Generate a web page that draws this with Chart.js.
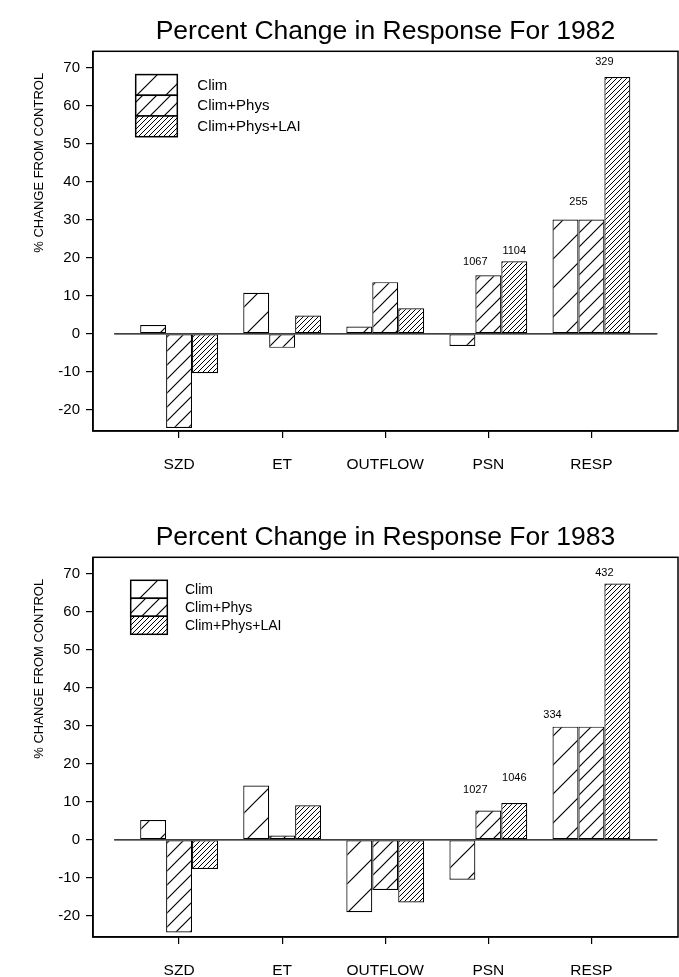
<!DOCTYPE html>
<html><head><meta charset="utf-8">
<script src="https://cdn.jsdelivr.net/npm/chart.js@4.4.1/dist/chart.umd.min.js"></script>
<style>
html,body{margin:0;padding:0;background:#fff;}
#wrap{position:relative;width:679px;height:977px;overflow:hidden;background:#fff;}
canvas{position:absolute;left:0;}
</style></head><body>
<div id="wrap">
<canvas id="c1" width="679" height="506" style="top:0px"></canvas>
<canvas id="c2" width="679" height="471" style="top:506px"></canvas>
</div>
<script>
// ---------- data ----------
const categories = ['SZD', 'ET', 'OUTFLOW', 'PSN', 'RESP'];
const seriesNames = ['Clim', 'Clim+Phys', 'Clim+Phys+LAI'];

const clim1982        = [2.3, 10.8, 1.9, -3.2, 30.1];
const climPhys1982    = [-24.8, -3.7, 13.6, 15.4, 30.1];
const climPhysLai1982 = [-10.4, 4.8, 6.7, 19.1, 67.6];

const clim1983        = [5.2, 14.3, -19.1, -10.5, 29.8];
const climPhys1983    = [-24.4, 1.1, -13.2, 7.7, 29.8];
const climPhysLai1983 = [-7.7, 9.1, -16.5, 9.7, 67.5];

const yTickValues = [-20, -10, 0, 10, 20, 30, 40, 50, 60, 70];

const valueLabels1982 = [
  {series: 1, cat: 3, text: '1067'},
  {series: 2, cat: 3, text: '1104'},
  {series: 1, cat: 4, text: '255'},
  {series: 2, cat: 4, text: '329'}
];
const valueLabels1983 = [
  {series: 1, cat: 3, text: '1027'},
  {series: 2, cat: 3, text: '1046'},
  {series: 0, cat: 4, text: '334'},
  {series: 2, cat: 4, text: '432'}
];

// ---------- styles ----------
const FONT = "'Liberation Sans', Arial, Helvetica, sans-serif";
Chart.defaults.font.family = FONT;
Chart.defaults.color = '#000';

function hatch(s, lw) {
  const c = document.createElement('canvas');
  c.width = s; c.height = s;
  const g = c.getContext('2d');
  g.fillStyle = '#fff'; g.fillRect(0, 0, s, s);
  g.strokeStyle = '#000'; g.lineWidth = lw;
  g.beginPath();
  g.moveTo(-1, s + 1); g.lineTo(s + 1, -1);
  g.moveTo(-2, 2); g.lineTo(2, -2);
  g.moveTo(s - 2, s + 2); g.lineTo(s + 2, s - 2);
  g.stroke();
  return g.createPattern(c, 'repeat');
}
const patterns = [hatch(29, 1.2), hatch(14, 1.2), hatch(5, 1.0)];

const labelOffsets1982 = [{dx: -0.5, dy: 13.6}, {dx: 0, dy: 10.3}, {dx: -0.5, dy: 17.6}, {dx: -0.5, dy: 15}];
const labelOffsets1983 = [{dx: -0.5, dy: 20.4}, {dx: 0, dy: 24.6}, {dx: -0.5, dy: 11.7}, {dx: -0.5, dy: 10.6}];

const legendStyle1982 = {ox: 42.7, oy: 23.3, bw: 41.6, bh: 20.7, gap: 20, size: 15};
const legendStyle1983 = {ox: 37.7, oy: 23, bw: 36.6, bh: 18, gap: 17.7, size: 14};

// ---------- plugins ----------
const framePlugin = {
  id: 'frame',
  beforeDatasetsDraw(chart) {
    const {ctx, chartArea: a} = chart;
    ctx.save();
    ctx.strokeStyle = '#000'; ctx.lineWidth = 1.5;
    ctx.strokeRect(a.left, a.top, a.right - a.left, a.bottom - a.top);
    ctx.restore();
  }
};

const baselinePlugin = {
  id: 'baseline',
  afterDatasetsDraw(chart, args, opts) {
    const {ctx, scales: {x, y}} = chart;
    const py = y.getPixelForValue(0);
    ctx.save();
    ctx.strokeStyle = '#000'; ctx.lineWidth = 1.3;
    ctx.beginPath();
    ctx.moveTo(x.getPixelForValue(opts.from), py);
    ctx.lineTo(x.getPixelForValue(opts.to), py);
    ctx.stroke();
    ctx.restore();
  }
};

const valueLabelPlugin = {
  id: 'valueLabels',
  afterDatasetsDraw(chart, args, opts) {
    const {ctx} = chart;
    ctx.save();
    ctx.fillStyle = '#000';
    ctx.font = opts.size + 'px ' + FONT;
    ctx.textAlign = 'center'; ctx.textBaseline = 'middle';
    opts.items.forEach((it, i) => {
      const el = chart.getDatasetMeta(it.series).data[it.cat];
      const off = opts.offsets[i];
      ctx.fillText(it.text, el.x + off.dx * el.width, el.y - off.dy);
    });
    ctx.restore();
  }
};

const hatchLegendPlugin = {
  id: 'hatchLegend',
  afterDraw(chart, args, o) {
    const {ctx, chartArea: a} = chart;
    const x0 = a.left + o.ox, y0 = a.top + o.oy;
    ctx.save();
    chart.data.datasets.forEach((ds, i) => {
      const y = y0 + i * o.bh;
      ctx.fillStyle = ds.backgroundColor;
      ctx.fillRect(x0, y, o.bw, o.bh);
      ctx.strokeStyle = '#000'; ctx.lineWidth = 1.5;
      ctx.strokeRect(x0, y, o.bw, o.bh);
      ctx.fillStyle = '#000';
      ctx.font = o.size + 'px ' + FONT;
      ctx.textAlign = 'left'; ctx.textBaseline = 'middle';
      ctx.fillText(ds.label, x0 + o.bw + o.gap, y + o.bh / 2 + 0.5);
    });
    ctx.restore();
  }
};

const yTitlePlugin = {
  id: 'yTitle',
  afterDraw(chart, args, o) {
    const {ctx, chartArea: a} = chart;
    ctx.save();
    ctx.translate(o.x, a.top + o.dy);
    ctx.rotate(-Math.PI / 2);
    ctx.fillStyle = '#000';
    ctx.font = o.size + 'px ' + FONT;
    ctx.textAlign = 'center'; ctx.textBaseline = 'middle';
    ctx.fillText(o.text, 0, 0);
    ctx.restore();
  }
};

function makeChart(id, title, series, labels, offsets, legendStyle, bottomPad) {
  const datasets = series.map((vals, s) => ({
    label: seriesNames[s],
    data: vals.map((v, i) => ({x: i, y: v})),
    backgroundColor: patterns[s],
    borderColor: '#000',
    borderWidth: 1.2,
    borderSkipped: false,
    barPercentage: 1.0,
    categoryPercentage: 0.755
  }));
  return new Chart(document.getElementById(id), {
    type: 'bar',
    data: {datasets},
    plugins: [framePlugin, baselinePlugin, valueLabelPlugin, hatchLegendPlugin, yTitlePlugin],
    options: {
      responsive: false,
      animation: false,
      events: [],
      layout: {padding: {left: 0, right: 1, top: 0, bottom: bottomPad}},
      plugins: {
        legend: {display: false},
        tooltip: {enabled: false},
        title: {
          display: true, text: title, fullSize: false, align: 'center',
          color: '#000', font: {size: 26.5, weight: 'normal', family: FONT, lineHeight: 1.2},
          padding: {top: 16, bottom: 3.5}
        },
        baseline: {from: -0.63, to: 4.64},
        valueLabels: {items: labels, offsets: offsets, size: 11},
        hatchLegend: legendStyle,
        yTitle: {text: '% CHANGE FROM CONTROL', x: 39.3, dy: 111.5, size: 13}
      },
      scales: {
        x: {
          type: 'linear', min: -0.835, max: 4.84, offset: false,
          grid: {display: true, drawOnChartArea: false, drawTicks: true, tickLength: 7, color: '#000', lineWidth: 1.2, offset: false},
          border: {display: true, color: '#000', width: 1.5},
          afterBuildTicks: s => { s.ticks = categories.map((c, i) => ({value: i})); },
          ticks: {callback: v => categories[v], font: {size: 15.5}, color: '#000', padding: 17.5, maxRotation: 0, autoSkip: false},
          afterFit: s => { s.height = 40; }
        },
        y: {
          type: 'linear', min: -25.6, max: 74.4,
          grid: {display: true, drawOnChartArea: false, drawTicks: true, tickLength: 7, color: '#000', lineWidth: 1.2},
          border: {display: true, color: '#000', width: 1.5},
          afterBuildTicks: s => { s.ticks = yTickValues.map(v => ({value: v})); },
          ticks: {font: {size: 15}, color: '#000', padding: 6},
          afterFit: s => { s.width = 93; }
        }
      }
    }
  });
}

makeChart('c1', 'Percent Change in Response For 1982',
  [clim1982, climPhys1982, climPhysLai1982], valueLabels1982, labelOffsets1982, legendStyle1982, 35);
makeChart('c2', 'Percent Change in Response For 1983',
  [clim1983, climPhys1983, climPhysLai1983], valueLabels1983, labelOffsets1983, legendStyle1983, 0);
</script>
</body></html>
